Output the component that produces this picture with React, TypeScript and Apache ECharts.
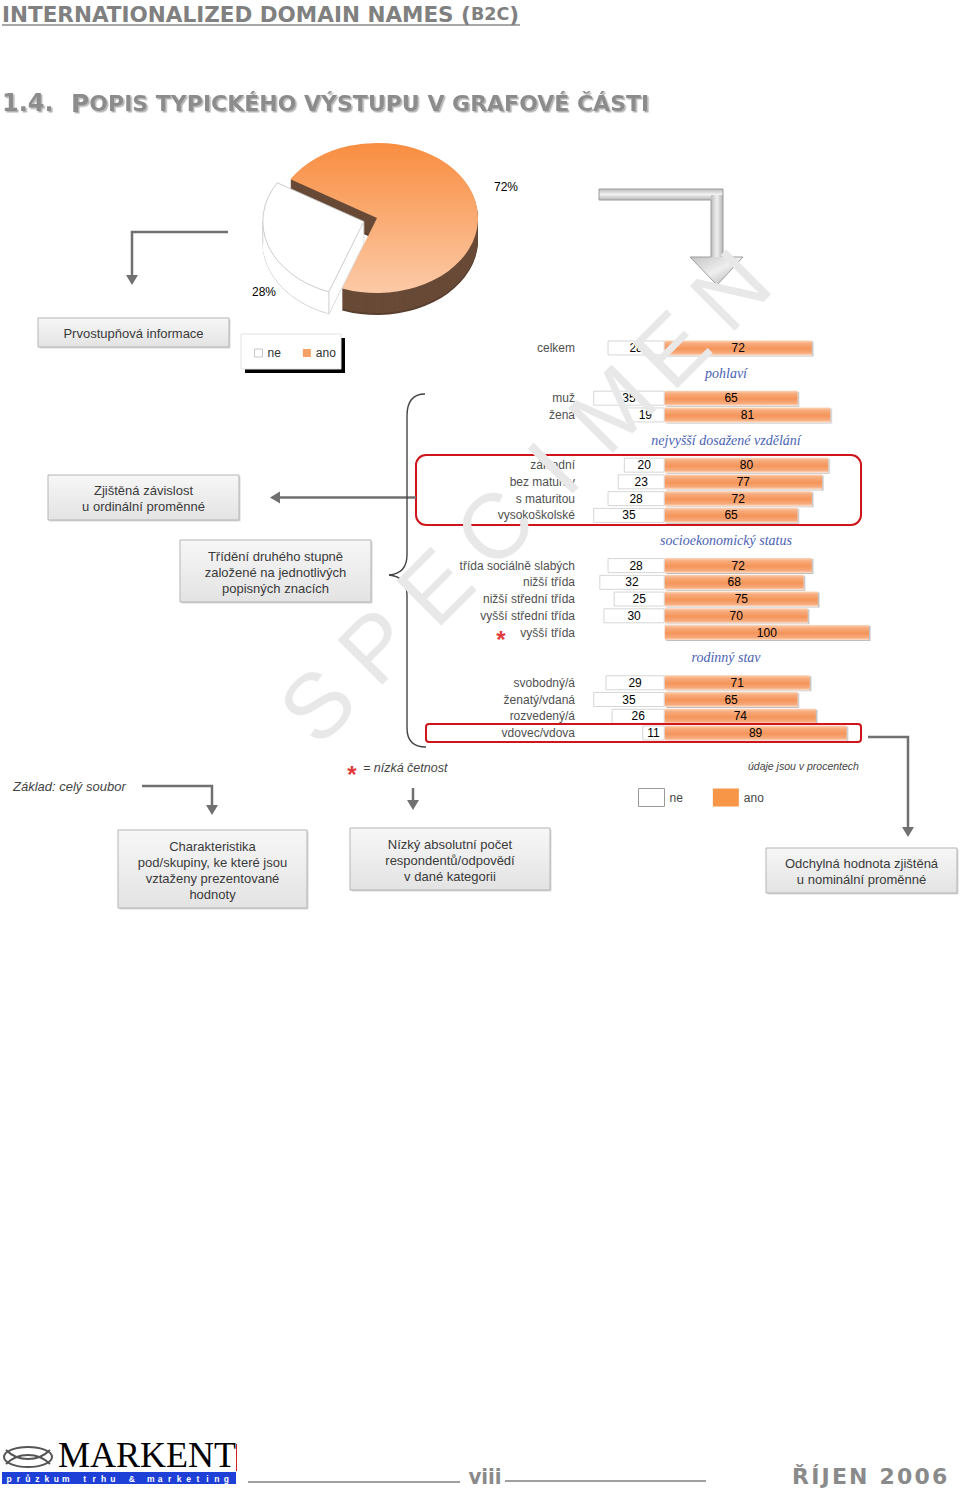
import React, { useEffect, useRef } from 'react';
import * as echarts from 'echarts';

// ---------------- data ----------------
const categories = [
  'celkem', '', '',
  'muž', 'žena', '', '',
  'základní', 'bez maturity', 's maturitou', 'vysokoškolské', '', '',
  'třída sociálně slabých', 'nižší třída', 'nižší střední třída', 'vyšší střední třída', 'vyšší třída', '', '',
  'svobodný/á', 'ženatý/vdaná', 'rozvedený/á', 'vdovec/vdova',
];
const neValues = [28, null, null, 35, 19, null, null, 20, 23, 28, 35, null, null, 28, 32, 25, 30, null, null, null, 29, 35, 26, 11];
const anoValues = [72, null, null, 65, 81, null, null, 80, 77, 72, 65, null, null, 72, 68, 75, 70, 100, null, null, 71, 65, 74, 89];
const groupHeaders = ['pohlaví', 'nejvyšší dosažené vzdělání', 'socioekonomický status', 'rodinný stav'];
const groupHeaderAfterRow = [1, 5, 11, 18];
const lowFrequencyRows = [17];
const seriesNames = ['ne', 'ano'];
const pieNames = ['ano', 'ne'];
const pieValues = [72, 28];

// ---------------- layout ----------------
const W = 960;
const H = 1488;
const GRID_LEFT = 583;
const GRID_WIDTH = 286;
const GRID_TOP = 339.6;
const ROW_H = 16.74;
const X_MIN = -40;
const X_MAX = 100;

const PIE_CX = 377;
const PIE_CY = 218;
const PIE_R = 101;
const PIE_SY = 0.743;
const PIE_DEPTH = 22;
const PIE_START = (211 * Math.PI) / 180;
const PIE_EXPLODE = [0, 14];
const PIE_LABEL_POS = [[506, 187], [264, 292]];

const FONT = '"Liberation Sans", Arial, sans-serif';
const SERIF = '"Liberation Serif", "Times New Roman", serif';
const DJ = '"DejaVu Sans", sans-serif';
const GRAY_LINE = '#707070';
const ORANGE = '#f79646';

function T(text: string, x: number, y: number, o: any = {}) {
  const align = o.align ?? 'left';
  const va = o.va ?? 'middle';
  return {
    type: 'text',
    x,
    y,
    z: o.z ?? 20,
    rotation: o.rotation ?? 0,
    silent: true,
    style: {
      text,
      fill: o.fill ?? '#333',
      fontSize: o.size ?? 12,
      fontFamily: o.family ?? FONT,
      fontWeight: o.weight ?? 'normal',
      fontStyle: o.italic ? 'italic' : 'normal',
      align,
      verticalAlign: va,
      textAlign: align,
      textVerticalAlign: va,
      lineHeight: o.lh,
      rich: o.rich,
    },
  };
}

function line(points: number[][], o: any = {}) {
  return {
    type: 'polyline',
    z: o.z ?? 15,
    silent: true,
    shape: { points },
    style: { stroke: o.color ?? GRAY_LINE, lineWidth: o.width ?? 2.5, fill: null },
  };
}

function head(x: number, y: number, dir: 'down' | 'left', s = 6, color = GRAY_LINE) {
  const pts = dir === 'down'
    ? [[x - s, y - 10], [x + s, y - 10], [x, y]]
    : [[x + 10, y - s], [x + 10, y + s], [x, y]];
  return { type: 'polygon', z: 15, silent: true, shape: { points: pts }, style: { fill: color } };
}

function box(x: number, y: number, w: number, h: number, lines: string[]) {
  return [
    {
      type: 'rect', z: 5, silent: true,
      shape: { x: x + 1.5, y: y + 1.5, width: w, height: h },
      style: { fill: '#d9d9d9' },
    },
    {
      type: 'rect', z: 6, silent: true,
      shape: { x, y, width: w, height: h },
      style: {
        fill: new echarts.graphic.LinearGradient(0, 0, 0, 1, [
          { offset: 0, color: '#f7f7f7' },
          { offset: 1, color: '#e3e3e3' },
        ]),
        stroke: '#b4b4b4',
        lineWidth: 1,
      },
    },
    T(lines.join('\n'), x + w / 2, y + h / 2 + 1, { align: 'center', size: 13, lh: 16, fill: '#3a3a3a', z: 7 }),
  ];
}

function rowCenter(i: number) {
  return GRID_TOP + (i + 0.5) * ROW_H;
}

function buildGraphics() {
  const g: any[] = [];

  // Headers
  g.push(T('{a|INTERNATIONALIZED DOMAIN NAMES (}{b|B2C}{a|)}', 2, 14, {
    rich: {
      a: { fontSize: 21.5, fontWeight: 'bold', fill: '#808080', fontFamily: DJ },
      b: { fontSize: 17.5, fontWeight: 'bold', fill: '#808080', fontFamily: DJ },
    },
  }));
  g.push(line([[2, 25], [520, 25]], { width: 1.5, color: '#8a8a8a' }));

  const shadowRich = (size: number) => ({
    fontSize: size, fontWeight: 'bold', fill: '#8c8c8c', fontFamily: DJ,
    textShadowColor: 'rgba(0,0,0,0.3)', textShadowOffsetX: 1.5, textShadowOffsetY: 1.5, textShadowBlur: 1,
  });
  g.push(T('{n|1.4.}', 2, 103, { rich: { n: shadowRich(24) } }));
  g.push(T('{p|P}{s|OPIS TYPICKÉHO VÝSTUPU V GRAFOVÉ ČÁSTI}', 71, 103, {
    rich: { p: shadowRich(25), s: shadowRich(22) },
  }));

  // Block arrow (top right)
  g.push({
    type: 'rect', z: 8, silent: true, shape: { x: 599, y: 189, width: 124, height: 11 },
    style: {
      fill: new echarts.graphic.LinearGradient(0, 0, 0, 1, [
        { offset: 0, color: '#bdbdbd' }, { offset: 0.5, color: '#f2f2f2' }, { offset: 1, color: '#b5b5b5' },
      ]),
    },
  });
  g.push({
    type: 'rect', z: 8, silent: true, shape: { x: 711, y: 195, width: 12, height: 63 },
    style: {
      fill: new echarts.graphic.LinearGradient(0, 0, 1, 0, [
        { offset: 0, color: '#bdbdbd' }, { offset: 0.5, color: '#f0f0f0' }, { offset: 1, color: '#b5b5b5' },
      ]),
    },
  });
  g.push({
    type: 'polygon', z: 8, silent: true, shape: { points: [[690, 257], [743, 257], [717, 285]] },
    style: {
      fill: new echarts.graphic.LinearGradient(0, 0, 1, 1, [
        { offset: 0, color: '#c4c4c4' }, { offset: 0.5, color: '#eeeeee' }, { offset: 1, color: '#a8a8a8' },
      ]),
    },
  });
  g.push({
    type: 'polygon', z: 9, silent: true,
    shape: { points: [[599, 189], [723, 189], [723, 257], [743, 257], [717, 285], [690, 257], [711, 257], [711, 200], [599, 200]] },
    style: { fill: null, stroke: '#9c9c9c', lineWidth: 1 },
  });

  // Thin arrows
  g.push(line([[228, 232], [132, 232], [132, 276]]));
  g.push(head(132, 285, 'down'));
  g.push(line([[416, 497.5], [278, 497.5]]));
  g.push(head(270, 497.5, 'left'));
  g.push(line([[868, 737], [908, 737], [908, 827]]));
  g.push(head(908, 837, 'down'));
  g.push(line([[142, 786], [212, 786], [212, 806]]));
  g.push(head(212, 815, 'down'));
  g.push(line([[413, 788], [413, 801]]));
  g.push(head(413, 810, 'down'));

  // Pie legend frame
  g.push({ type: 'rect', z: 1, silent: true, shape: { x: 245, y: 338, width: 100, height: 35 }, style: { fill: '#000' } });
  g.push({ type: 'rect', z: 1, silent: true, shape: { x: 241, y: 334, width: 100, height: 35 }, style: { fill: '#fff', stroke: '#e2e2e2', lineWidth: 1 } });

  // Boxes
  g.push(...box(38, 318, 191, 29, ['Prvostupňová informace']));
  g.push(...box(48, 475, 191, 45, ['Zjištěná závislost', 'u ordinální proměnné']));
  g.push(...box(180, 540, 191, 62, ['Třídění druhého stupně', 'založené na jednotlivých', 'popisných znacích']));
  g.push(...box(118, 830, 189, 78, ['Charakteristika', 'pod/skupiny, ke které jsou', 'vztaženy prezentované', 'hodnoty']));
  g.push(...box(350, 828, 200, 62, ['Nízký absolutní počet', 'respondentů/odpovědí', 'v dané kategorii']));
  g.push(...box(766, 848, 191, 45, ['Odchylná hodnota zjištěná', 'u nominální proměnné']));

  // Curly brace
  const bz = (x1: number, y1: number, c1x: number, c1y: number, c2x: number, c2y: number, x2: number, y2: number, color = '#444', width = 1.4) => ({
    type: 'bezierCurve', z: 15, silent: true,
    shape: { x1, y1, cpx1: c1x, cpy1: c1y, cpx2: c2x, cpy2: c2y, x2, y2 },
    style: { stroke: color, lineWidth: width, fill: null },
  });
  g.push(bz(425, 394, 413, 394, 407, 401, 407, 416));
  g.push(line([[407, 416], [407, 555]], { color: '#444', width: 1.4 }));
  g.push(bz(407, 555, 407, 568, 400, 574, 389, 575));
  g.push(bz(389, 575, 400, 576, 407, 582, 407, 595));
  g.push(line([[407, 595], [407, 728]], { color: '#444', width: 1.4 }));
  g.push(bz(407, 728, 407, 741, 413, 747, 426, 747));

  // Red highlight frames
  g.push({ type: 'rect', z: 12, silent: true, shape: { x: 416, y: 455, width: 445, height: 70, r: 10 }, style: { fill: null, stroke: '#d0141c', lineWidth: 2 } });
  g.push({ type: 'rect', z: 12, silent: true, shape: { x: 426, y: 724, width: 435, height: 18, r: 3 }, style: { fill: null, stroke: '#d0141c', lineWidth: 2 } });

  // Group headers
  groupHeaders.forEach((h, k) => {
    const y = GRID_TOP + (groupHeaderAfterRow[k] + 1) * ROW_H;
    g.push(T(h, 726, y, { align: 'center', italic: true, family: SERIF, size: 14, fill: '#4a62b4' }));
  });

  // Low-frequency asterisks
  lowFrequencyRows.forEach((r) => {
    g.push(T('*', 501, rowCenter(r) + 7, { align: 'center', size: 24, weight: 'bold', fill: '#e03a3a' }));
  });

  // Notes
  g.push(T('*', 352, 774, { align: 'center', size: 24, weight: 'bold', fill: '#e03a3a' }));
  g.push(T('= nízká četnost', 363, 768, { italic: true, size: 12.5, fill: '#444' }));
  g.push(T('údaje jsou v procentech', 748, 766, { italic: true, size: 10.5, fill: '#444' }));
  g.push(T('Základ: celý soubor', 13, 786, { italic: true, size: 13, fill: '#444' }));

  // Footer
  g.push({ type: 'ellipse', z: 10, silent: true, shape: { cx: 28, cy: 1457, rx: 24, ry: 10 }, style: { fill: null, stroke: '#555', lineWidth: 2 } });
  g.push(bz(6, 1450, 18, 1462, 38, 1462, 50, 1450, '#555', 2));
  g.push(bz(6, 1464, 18, 1452, 38, 1452, 50, 1464, '#555', 2));
  g.push(T('MARKENT', 58, 1455, { size: 36, family: SERIF, fill: '#000' }));
  g.push({ type: 'rect', z: 10, silent: true, shape: { x: 236, y: 1444, width: 1, height: 27 }, style: { fill: '#d02020' } });
  g.push({ type: 'rect', z: 10, silent: true, shape: { x: 2, y: 1472, width: 234, height: 12 }, style: { fill: '#1e40d6' } });
  const tag = 'průzkum trhu & marketing'.split('');
  tag.forEach((ch, k) => {
    if (ch === ' ') return;
    g.push(T(ch, 9 + k * 9.45, 1478.5, { align: 'center', size: 8.5, weight: 'bold', fill: '#ffffff', z: 21 }));
  });
  g.push(line([[248, 1482], [460, 1482]], { width: 1.5, color: '#808080' }));
  g.push(line([[505, 1481], [706, 1481]], { width: 1.5, color: '#808080' }));
  g.push(T('viii', 485, 1476, { align: 'center', size: 22, weight: 'bold', fill: '#8a8a8a', family: '"DejaVu Sans Condensed", "DejaVu Sans", sans-serif' }));
  g.push(T('Ř\u200AÍ\u200AJ\u200AE\u200AN\u2009 2\u200A0\u200A0\u200A6', 792, 1476, { size: 22, weight: 'bold', fill: '#8a8a8a', family: DJ }));

  // SPECIMEN watermark
  const letters = 'SPECIMEN'.split('');
  const s0 = [317, 705];
  const s1 = [730, 290];
  letters.forEach((ch, k) => {
    const t = k / (letters.length - 1);
    g.push(T(ch, s0[0] + (s1[0] - s0[0]) * t, s0[1] + (s1[1] - s0[1]) * t, {
      align: 'center', size: 92, fill: '#e8e8e8', rotation: Math.PI / 4, z: 100,
    }));
  });

  return g;
}

function pieRenderItem(params: any, api: any) {
  const i = params.dataIndex;
  const total = pieValues.reduce((a, b) => a + b, 0);
  let acc = 0;
  for (let k = 0; k < i; k++) acc += pieValues[k];
  const start = PIE_START + (acc / total) * Math.PI * 2;
  const end = start + (api.value(0) / total) * Math.PI * 2;
  const mid = (start + end) / 2;
  const ex = PIE_EXPLODE[i];
  const cx = PIE_CX + Math.cos(mid) * ex;
  const cy = PIE_CY + Math.sin(mid) * ex * PIE_SY;
  const shape = { cx: 0, cy: 0, r0: 0, r: PIE_R, startAngle: start, endAngle: end, clockwise: true };
  const isAno = i === 0;
  const kids: any[] = [];
  for (let d = PIE_DEPTH; d >= 1; d--) {
    kids.push({
      type: 'sector', x: cx, y: cy + d, scaleY: PIE_SY, shape,
      style: isAno
        ? { fill: d > PIE_DEPTH - 2 ? '#5a3f2f' : '#684a37' }
        : { fill: '#ffffff', stroke: d === PIE_DEPTH ? '#cfcfcf' : null, lineWidth: 1, strokeNoScale: true },
    });
  }
  if (!isAno) {
    const corners = [end, Math.PI, start];
    corners.forEach((a) => {
      const px = cx + Math.cos(a) * PIE_R;
      const py = cy + Math.sin(a) * PIE_R * PIE_SY;
      kids.push({ type: 'line', shape: { x1: px, y1: py, x2: px, y2: py + PIE_DEPTH }, style: { stroke: '#cfcfcf', lineWidth: 1 } });
    });
    kids.push({ type: 'line', shape: { x1: cx, y1: cy, x2: cx, y2: cy + PIE_DEPTH }, style: { stroke: '#dedede', lineWidth: 1 } });
  }
  kids.push({
    type: 'sector', x: cx, y: cy, scaleY: PIE_SY, shape,
    style: isAno
      ? {
        fill: new echarts.graphic.LinearGradient(0, 0, 0, 1, [
          { offset: 0, color: '#f98d40' },
          { offset: 1, color: '#fccaa7' },
        ]),
      }
      : { fill: '#ffffff', stroke: '#c4c4c4', lineWidth: 1, strokeNoScale: true },
  });
  kids.push({
    type: 'text',
    x: PIE_LABEL_POS[i][0],
    y: PIE_LABEL_POS[i][1],
    style: {
      text: `${api.value(0)}%`, fill: '#000', fontSize: 12, fontFamily: FONT,
      align: 'center', verticalAlign: 'middle', textAlign: 'center', textVerticalAlign: 'middle',
    },
  });
  return { type: 'group', children: kids };
}

export default function App() {
  const ref = useRef<HTMLDivElement>(null);
  useEffect(() => {
    if (!ref.current) return;
    const chart = echarts.init(ref.current, null, { renderer: 'svg' });
    const anoGradient = new echarts.graphic.LinearGradient(0, 0, 0, 1, [
      { offset: 0, color: '#fcd3b6' },
      { offset: 0.2, color: '#f8ab7c' },
      { offset: 0.55, color: '#f4955a' },
      { offset: 0.85, color: '#f7ab7d' },
      { offset: 1, color: '#fde1cd' },
    ]);
    const labelStyle = {
      show: true, position: 'inside', color: '#000', fontSize: 12, fontFamily: FONT,
    };
    chart.setOption({
      animation: false,
      backgroundColor: '#ffffff',
      grid: { left: GRID_LEFT, width: GRID_WIDTH, top: GRID_TOP, height: ROW_H * categories.length, containLabel: false },
      xAxis: { type: 'value', min: X_MIN, max: X_MAX, show: false },
      yAxis: {
        type: 'category', data: categories, inverse: true,
        axisLine: { show: false }, axisTick: { show: false }, splitLine: { show: false },
        axisLabel: { interval: 0, color: '#505050', fontSize: 12, fontFamily: FONT, margin: 8 },
      },
      legend: [
        {
          left: 254, top: 347, padding: 0, z: 50, itemWidth: 8, itemHeight: 8, itemGap: 22, selectedMode: false, icon: 'rect',
          textStyle: { color: '#333', fontSize: 12, fontFamily: FONT },
          data: [
            { name: seriesNames[0], itemStyle: { color: '#fff', borderColor: '#c8c8c8', borderWidth: 1 } },
            { name: seriesNames[1], itemStyle: { color: '#f7a066', borderWidth: 0 } },
          ],
        },
        {
          left: 638, top: 788, padding: 0, z: 50, itemWidth: 26, itemHeight: 18, itemGap: 30, selectedMode: false, icon: 'rect',
          textStyle: { color: '#444', fontSize: 12, fontFamily: FONT },
          data: [
            { name: seriesNames[0], itemStyle: { color: '#fff', borderColor: '#9a9a9a', borderWidth: 1 } },
            { name: seriesNames[1], itemStyle: { color: ORANGE, borderWidth: 0 } },
          ],
        },
      ],
      graphic: { elements: buildGraphics() },
      series: [
        {
          type: 'bar', name: seriesNames[0], barWidth: 15, barGap: '-100%', silent: true, z: 3,
          data: neValues.map((v) => (v == null ? null : -v)),
          itemStyle: { color: '#ffffff', borderColor: '#d6d6d6', borderWidth: 1 },
          label: { ...labelStyle, formatter: (p: any) => `${Math.abs(p.value)}` },
        },
        {
          type: 'bar', name: seriesNames[1], barWidth: 15, barGap: '-100%', silent: true, z: 3,
          data: anoValues,
          itemStyle: { color: anoGradient, shadowColor: 'rgba(0,0,0,0.25)', shadowOffsetX: 1.5, shadowOffsetY: 1, shadowBlur: 1 },
          label: { ...labelStyle, formatter: (p: any) => `${p.value}` },
        },
        {
          type: 'custom', name: 'pie', coordinateSystem: 'none', silent: true, z: 4,
          data: pieValues.map((v, i) => ({ value: v, name: pieNames[i] })),
          renderItem: pieRenderItem,
        },
      ],
    });
    return () => chart.dispose();
  }, []);
  return <div ref={ref} style={{ position: 'absolute', left: 0, top: 0, width: W, height: H }} />;
}
